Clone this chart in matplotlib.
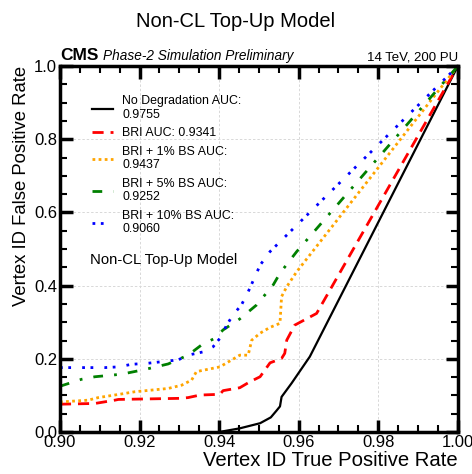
import matplotlib
matplotlib.use("Agg")
import matplotlib.pyplot as plt
from matplotlib.ticker import MultipleLocator

plt.rcParams['font.family'] = ['Liberation Sans', 'DejaVu Sans']

# ROC curves (TPR, FPR)
nodeg_tpr = [0.940, 0.9452, 0.9503, 0.9530, 0.9544, 0.9553, 0.9557, 0.9582, 0.9628, 1.000]
nodeg_fpr = [0.000, 0.010, 0.024, 0.040, 0.058, 0.070, 0.096, 0.133, 0.206, 1.000]

bri_tpr = [0.900, 0.9088, 0.9138, 0.9147, 0.9302, 0.9322, 0.9352, 0.9402, 0.9410, 0.9452, 0.9477,
           0.9503, 0.9528, 0.9557, 0.9565, 0.9570, 0.9590, 0.9645, 1.000]
bri_fpr = [0.076, 0.078, 0.087, 0.089, 0.092, 0.094, 0.101, 0.103, 0.113, 0.121, 0.137,
           0.151, 0.189, 0.201, 0.215, 0.251, 0.292, 0.324, 1.000]

bs1_tpr = [0.900, 0.9071, 0.9096, 0.9155, 0.9188, 0.9272, 0.9306, 0.9331, 0.9343, 0.9402, 0.9452,
           0.9473, 0.9482, 0.9503, 0.9528, 0.9553, 0.9557, 0.9570, 0.9595, 1.000]
bs1_fpr = [0.082, 0.087, 0.094, 0.104, 0.110, 0.119, 0.128, 0.142, 0.165, 0.178, 0.210,
           0.210, 0.251, 0.270, 0.286, 0.297, 0.370, 0.397, 0.438, 1.000]

bs5_tpr = [0.900, 0.9054, 0.9088, 0.9155, 0.9214, 0.9272, 0.9322, 0.9356, 0.9389, 0.9410, 0.9452,
           0.9494, 0.9536, 0.9553, 0.9595, 1.000]
bs5_fpr = [0.125, 0.144, 0.151, 0.158, 0.171, 0.186, 0.210, 0.238, 0.256, 0.279, 0.309,
           0.347, 0.402, 0.434, 0.493, 1.000]

bs10_tpr = [0.900, 0.9113, 0.9147, 0.9180, 0.9222, 0.9255, 0.9297, 0.9322, 0.9360, 0.9385, 0.9402,
            0.9419, 0.9435, 0.9456, 0.9473, 0.9490, 0.9503, 0.9528, 1.000]
bs10_fpr = [0.176, 0.176, 0.178, 0.185, 0.188, 0.192, 0.197, 0.210, 0.219, 0.233, 0.256,
            0.292, 0.320, 0.347, 0.383, 0.424, 0.456, 0.493, 1.000]

labels = ["No Degradation AUC:\n0.9755", "BRI AUC: 0.9341", "BRI + 1% BS AUC:\n0.9437",
          "BRI + 5% BS AUC:\n0.9252", "BRI + 10% BS AUC:\n0.9060"]

x_ticks = [0.90, 0.92, 0.94, 0.96, 0.98, 1.00]
y_ticks = [0.0, 0.2, 0.4, 0.6, 0.8, 1.0]

fig = plt.figure(figsize=(4.72, 4.74), dpi=100)
ax = fig.add_axes([0.127, 0.0886, 0.843, 0.772])

ax.plot(nodeg_tpr, nodeg_fpr, color='black', lw=1.6, ls='-', label=labels[0])
ax.plot(bri_tpr, bri_fpr, color='red', lw=2.0, ls=(0, (4, 2.5)), label=labels[1])
ax.plot(bs1_tpr, bs1_fpr, color='orange', lw=2.0, ls=(0, (1, 1.2)), label=labels[2])
ax.plot(bs5_tpr, bs5_fpr, color='green', lw=2.0, ls=(0, (3.5, 4, 1, 4)), label=labels[3])
ax.plot(bs10_tpr, bs10_fpr, color='blue', lw=2.0, ls=(0, (1, 2, 1, 4)), label=labels[4])

ax.set_xlim(0.90, 1.00)
ax.set_ylim(0.0, 1.0)
ax.set_xticks(x_ticks)
ax.set_yticks(y_ticks)
ax.set_xticklabels([f"{v:.2f}" for v in x_ticks])
ax.set_yticklabels([f"{v:.1f}" for v in y_ticks])
ax.xaxis.set_minor_locator(MultipleLocator(0.005))
ax.yaxis.set_minor_locator(MultipleLocator(0.05))
ax.tick_params(which='both', direction='in', top=True, right=True, labelsize=12, pad=2)
ax.tick_params(which='major', length=9, width=2.5)
ax.tick_params(which='minor', length=5, width=1.5)
for s in ax.spines.values():
    s.set_linewidth(2.5)
ax.grid(True, which='major', color='#d8d8d8', ls=(0, (2.5, 2)), lw=0.7)

ax.set_xlabel("Vertex ID True Positive Rate", fontsize=14.6, loc='right', labelpad=1)
ax.set_ylabel("Vertex ID False Positive Rate", fontsize=13.3, loc='top', labelpad=3)

leg = ax.legend(loc='upper left', bbox_to_anchor=(0.053, 0.95), frameon=False, fontsize=8.9,
                handlelength=1.65, labelspacing=0.5, handletextpad=0.8)

ax.text(0.075, 0.46, "Non-CL Top-Up Model", transform=ax.transAxes, fontsize=10.7)

ax.text(0.0, 1.008, "CMS", transform=ax.transAxes, fontsize=12.5, fontweight='bold', va='bottom')
ax.text(0.108, 1.008, "Phase-2 Simulation Preliminary", transform=ax.transAxes, fontsize=9.8,
        style='italic', va='bottom')
ax.text(1.0, 1.008, "14 TeV, 200 PU", transform=ax.transAxes, fontsize=9.5, ha='right', va='bottom')

fig.suptitle("Non-CL Top-Up Model", fontsize=14.5, y=0.975)

fig.savefig("out.png", dpi=100)
